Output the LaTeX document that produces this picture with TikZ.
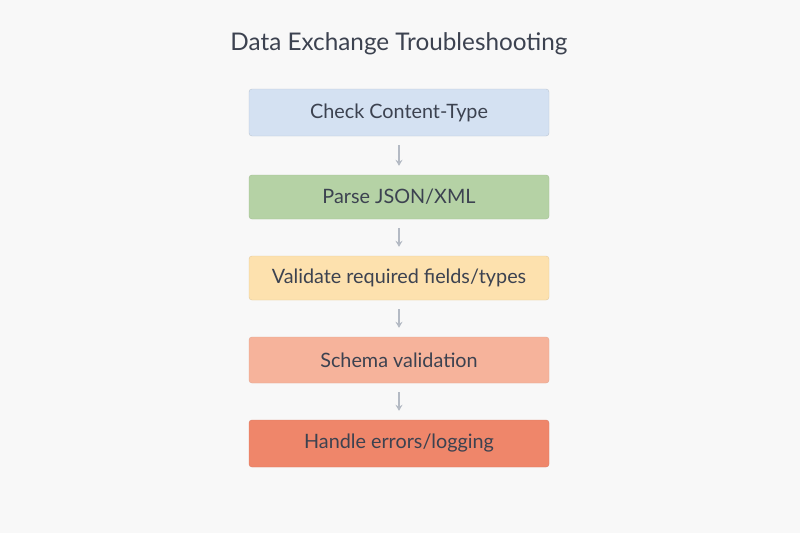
\documentclass[tikz,border=0pt]{standalone}
\usepackage{fontspec}
\setmainfont{Lato}
\usetikzlibrary{arrows.meta}
\definecolor{bg}{HTML}{F8F8F8}
\definecolor{txt}{HTML}{3C4250}
\definecolor{cA}{HTML}{D4E1F2}
\definecolor{cB}{HTML}{B5D2A5}
\definecolor{cC}{HTML}{FDE1AE}
\definecolor{cD}{HTML}{F6B39B}
\definecolor{cE}{HTML}{EF866A}
\definecolor{arr}{HTML}{B4BAC4}
\tikzset{
  stepbox/.style={rounded corners=3pt, minimum width=300pt, text=txt, font=\fontsize{19.8}{23}\selectfont, inner sep=0pt},
  conn/.style={arr, line width=1.3pt, -{Stealth[length=6pt,width=7pt]}}
}
\begin{document}
\begin{tikzpicture}[x=1pt,y=-1pt]
\fill[bg] (0,0) rectangle (800,533);
\useasboundingbox (0,0) rectangle (800,533);
\node[text=txt, font=\fontsize{24.3}{28}\selectfont] (title) at (399,44) {Data Exchange Troubleshooting};
\node[stepbox, fill=cA, draw=cA!85!black!90, minimum height=47pt] (a) at (399,112.5) {Check Content-Type};
\node[stepbox, fill=cB, draw=cB!90!black, minimum height=44pt] (b) at (399,197) {Parse JSON/XML};
\node[stepbox, fill=cC, draw=cC!90!black, minimum height=44pt] (c) at (399,278) {Validate required fields/types};
\node[stepbox, fill=cD, draw=cD!92!black, minimum height=46pt] (d) at (399,360) {Schema validation};
\node[stepbox, fill=cE, draw=cE!92!black, minimum height=47pt] (e) at (399,443.5) {Handle errors/logging};
\draw[conn] ([yshift=-9pt]a.south) -- ([yshift=9pt]b.north);
\draw[conn] ([yshift=-9pt]b.south) -- ([yshift=9pt]c.north);
\draw[conn] ([yshift=-9pt]c.south) -- ([yshift=9pt]d.north);
\draw[conn] ([yshift=-9pt]d.south) -- ([yshift=9pt]e.north);
\end{tikzpicture}
\end{document}
